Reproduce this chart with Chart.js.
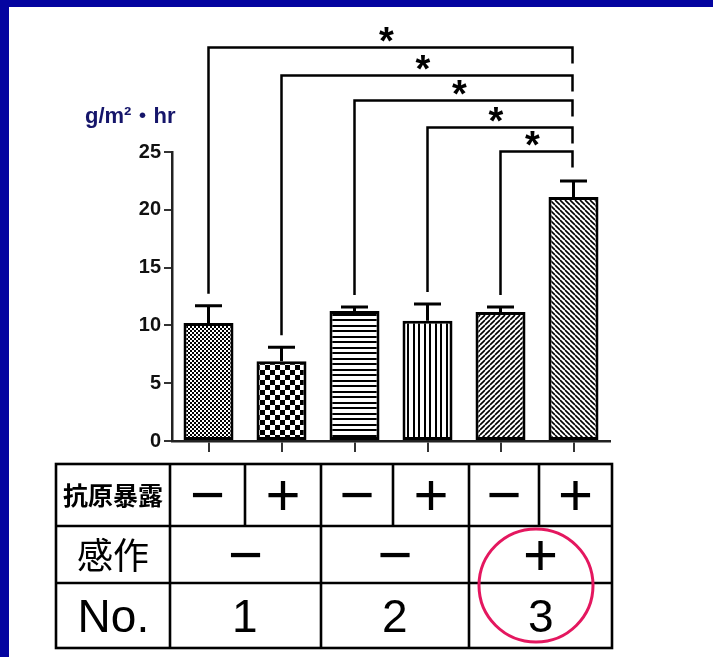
<!DOCTYPE html>
<html>
<head>
<meta charset="utf-8">
<script src="https://cdn.jsdelivr.net/npm/chart.js@4.4.1/dist/chart.umd.min.js"></script>
<style>
  html, body { margin: 0; padding: 0; background: #fff; }
  canvas { display: block; }
</style>
</head>
<body>
<canvas id="chart" width="713" height="657"></canvas>
<script>
// Groups: No.1 / No.2 / No.3, each without (−) and with (+) antigen exposure
const categories = ['1−', '1+', '2−', '2+', '3−', '3+'];
const means = [10.2, 6.9, 11.25, 10.4, 11.15, 21.1];
const sems = [1.5, 1.2, 0.35, 1.45, 0.45, 1.4];
const yTicks = [0, 5, 10, 15, 20, 25];
const unitLabel = 'g/m²・hr';

// Significance brackets: every group compared with group 3+
const comparisons = [[0, 5], [1, 5], [2, 5], [3, 5], [4, 5]];
const marks = ['*', '*', '*', '*', '*'];

// Condition table under the axis
const rowLabels = ['抗原暴露', '感作', 'No.'];
const antigen = ['−', '+', '−', '+', '−', '+'];
const sensitized = ['−', '−', '+'];
const groupNo = ['1', '2', '3'];

const canvas = document.getElementById('chart');
const mainCtx = canvas.getContext('2d');

// Monochrome hatch fills for the bars
function makePattern(kind) {
  const t = document.createElement('canvas');
  const c = t.getContext('2d');
  const setup = (w, h) => { t.width = w; t.height = h; c.fillStyle = '#fff'; c.fillRect(0, 0, w, h); c.fillStyle = '#000'; c.strokeStyle = '#000'; };
  if (kind === 'fineCheck') {
    setup(4, 4);
    c.fillRect(0, 0, 2, 2); c.fillRect(2, 2, 2, 2);
  } else if (kind === 'check') {
    setup(10, 10);
    c.fillRect(0, 0, 5, 5); c.fillRect(5, 5, 5, 5);
  } else if (kind === 'hLines') {
    setup(4, 11);
    c.fillRect(0, 0, 4, 2); c.fillRect(0, 6, 4, 2);
  } else if (kind === 'vLines') {
    setup(11, 4);
    c.fillRect(0, 0, 2, 4); c.fillRect(6, 0, 2, 4);
  } else if (kind === 'diagUp' || kind === 'diagDown') {
    const n = 5;
    setup(n, n);
    c.lineWidth = 1.6;
    c.beginPath();
    for (let k = -1; k <= 1; k++) {
      if (kind === 'diagUp') { c.moveTo(k * n, n); c.lineTo(k * n + n, 0); }
      else { c.moveTo(k * n, 0); c.lineTo(k * n + n, n); }
    }
    c.stroke();
  }
  return mainCtx.createPattern(t, 'repeat');
}

const fills = ['fineCheck', 'check', 'hLines', 'vLines', 'diagUp', 'diagDown'].map(makePattern);

// Draws text so that its visible glyph box is centred on (cx, cy)
function centredText(ctx, text, cx, cy) {
  const m = ctx.measureText(text);
  const w = m.actualBoundingBoxRight + m.actualBoundingBoxLeft;
  const h = m.actualBoundingBoxAscent + m.actualBoundingBoxDescent;
  ctx.textAlign = 'left';
  ctx.textBaseline = 'alphabetic';
  ctx.fillText(text, cx - w / 2 + m.actualBoundingBoxLeft, cy + h / 2 - m.actualBoundingBoxDescent);
}

const decorations = {
  id: 'decorations',
  beforeDraw(chart) {
    const ctx = chart.ctx;
    ctx.save();
    ctx.fillStyle = '#fff';
    ctx.fillRect(0, 0, chart.width, chart.height);
    ctx.fillStyle = '#0404a0';
    ctx.fillRect(0, 0, chart.width, 7);
    ctx.fillRect(0, 0, 9, chart.height);
    ctx.restore();
  },
  afterDatasetsDraw(chart) {
    const ctx = chart.ctx;
    const y = chart.scales.y;
    const meta = chart.getDatasetMeta(0);
    ctx.save();
    ctx.strokeStyle = '#000';
    ctx.lineCap = 'butt';

    // SEM whiskers (upper side only)
    ctx.lineWidth = 3;
    means.forEach((m, i) => {
      const cx = meta.data[i].x;
      const yTop = y.getPixelForValue(m + sems[i]);
      ctx.beginPath();
      ctx.moveTo(cx, y.getPixelForValue(m));
      ctx.lineTo(cx, yTop);
      ctx.moveTo(cx - 13.5, yTop);
      ctx.lineTo(cx + 13.5, yTop);
      ctx.stroke();
    });

    // Significance brackets, outermost first
    const levels = [34.1, 31.7, 29.5, 27.2, 25.1];
    ctx.lineWidth = 2.5;
    ctx.fillStyle = '#000';
    ctx.font = 'bold 38px "Liberation Sans", Arial, sans-serif';
    comparisons.forEach(([a, b], k) => {
      const xa = meta.data[a].x, xb = meta.data[b].x - 1;
      const yl = Math.round(y.getPixelForValue(levels[k])) + 0.5;
      const ya = y.getPixelForValue(means[a] + sems[a]) - 12;
      ctx.beginPath();
      ctx.moveTo(xa, ya);
      ctx.lineTo(xa, yl);
      ctx.lineTo(xb, yl);
      ctx.lineTo(xb, yl + 16);
      ctx.stroke();
      centredText(ctx, marks[k], (xa + xb) / 2 - 4, yl - 13);
    });
    ctx.restore();
  },
  afterDraw(chart) {
    const ctx = chart.ctx;
    ctx.save();

    // Unit label above the value axis
    ctx.fillStyle = '#15156a';
    ctx.font = 'bold 22px "Liberation Sans", Arial, "Noto Sans CJK JP", sans-serif';
    ctx.textAlign = 'left';
    ctx.textBaseline = 'alphabetic';
    ctx.fillText(unitLabel, 85, 123);

    // Condition table
    const cols = [56, 170, 245, 321, 393, 469, 539, 612];
    const rows = [464, 526, 583, 648];
    ctx.strokeStyle = '#000';
    ctx.lineWidth = 2.6;
    ctx.strokeRect(cols[0], rows[0], cols[7] - cols[0], rows[3] - rows[0]);
    ctx.beginPath();
    [rows[1], rows[2]].forEach(r => { ctx.moveTo(cols[0], r); ctx.lineTo(cols[7], r); });
    cols.slice(1, 7).forEach((c, i) => {
      ctx.moveTo(c, rows[0]);
      ctx.lineTo(c, i % 2 === 0 ? rows[3] : rows[1]);
    });
    ctx.stroke();

    ctx.fillStyle = '#000';
    const labelCx = (cols[0] + cols[1]) / 2;
    ctx.font = 'bold 25px "Noto Sans CJK JP", sans-serif';
    centredText(ctx, rowLabels[0], labelCx, (rows[0] + rows[1]) / 2);
    ctx.font = '36px "Noto Sans CJK JP", sans-serif';
    centredText(ctx, rowLabels[1], labelCx, (rows[1] + rows[2]) / 2);
    ctx.font = '46px "Liberation Sans", Arial, sans-serif';
    centredText(ctx, rowLabels[2], labelCx, (rows[2] + rows[3]) / 2);

    ctx.font = '60px "Liberation Sans", Arial, sans-serif';
    antigen.forEach((s, i) => centredText(ctx, s, (cols[i + 1] + cols[i + 2]) / 2, (rows[0] + rows[1]) / 2));
    sensitized.forEach((s, g) => centredText(ctx, s, (cols[2 * g + 1] + cols[2 * g + 3]) / 2, (rows[1] + rows[2]) / 2));
    ctx.font = '46px "Liberation Sans", Arial, sans-serif';
    groupNo.forEach((s, g) => centredText(ctx, s, (cols[2 * g + 1] + cols[2 * g + 3]) / 2, (rows[2] + rows[3]) / 2));

    // Highlight ring around the sensitized group
    ctx.strokeStyle = '#e4175f';
    ctx.lineWidth = 3;
    ctx.beginPath();
    ctx.ellipse(536, 585.5, 57, 56.5, 0, 0, Math.PI * 2);
    ctx.stroke();
    ctx.restore();
  }
};

new Chart(canvas, {
  type: 'bar',
  data: {
    labels: categories,
    datasets: [{
      data: means,
      backgroundColor: fills,
      borderColor: '#000',
      borderWidth: 3,
      borderSkipped: false,
      categoryPercentage: 1,
      barPercentage: 0.685
    }]
  },
  options: {
    responsive: false,
    devicePixelRatio: 1,
    animation: false,
    layout: { padding: { top: 152, right: 103, left: 0, bottom: 0 } },
    plugins: { legend: { display: false }, tooltip: { enabled: false } },
    scales: {
      x: {
        grid: { offset: false, drawOnChartArea: false, tickLength: 11, color: '#333', lineWidth: 2 },
        border: { color: '#222', width: 2.5 },
        ticks: { display: false },
        afterFit(scale) { scale.height = 657 - 441; }
      },
      y: {
        min: 0, max: 25,
        grid: { drawOnChartArea: false, tickLength: 8, color: '#333', lineWidth: 2 },
        border: { color: '#222', width: 2.5 },
        ticks: {
          padding: 3, color: '#111',
          font: { family: '"Liberation Sans", Arial, sans-serif', size: 20, weight: 'bold' }
        },
        afterBuildTicks(scale) { scale.ticks = yTicks.map(v => ({ value: v })); },
        afterFit(scale) { scale.width = 172; }
      }
    }
  },
  plugins: [decorations]
});
</script>
</body>
</html>
